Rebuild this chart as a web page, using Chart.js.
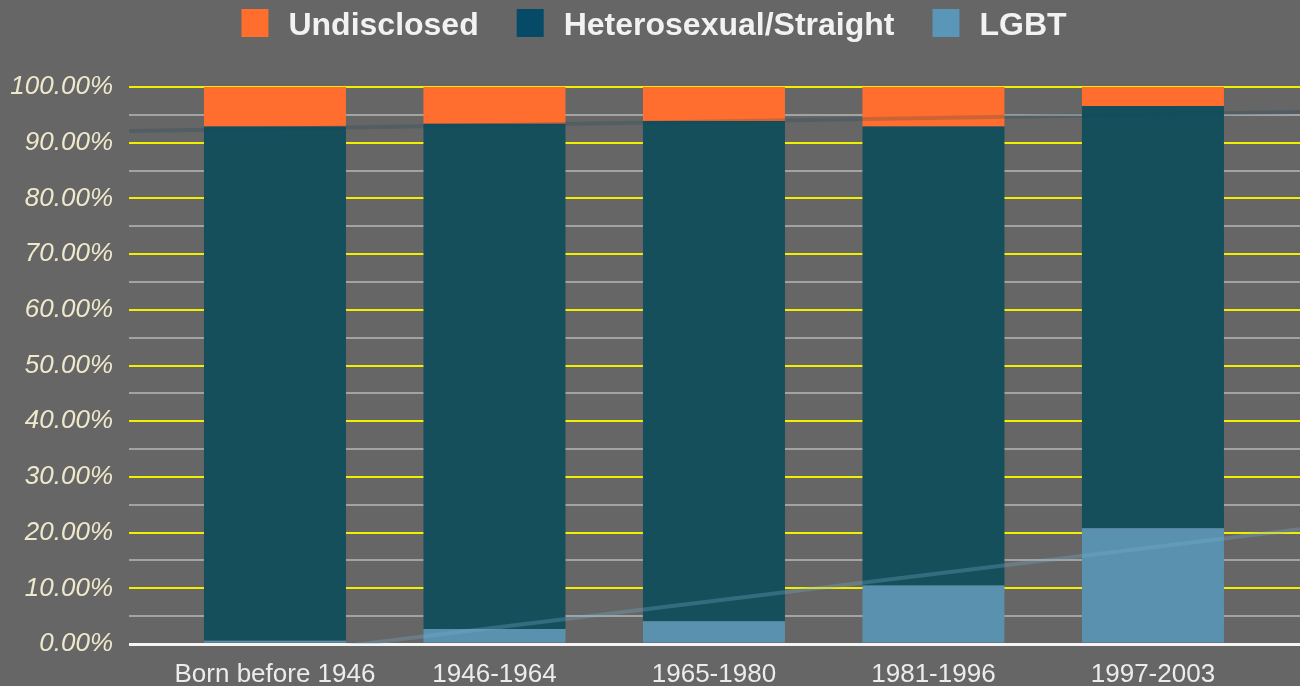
<!DOCTYPE html>
<html>
<head>
<meta charset="utf-8">
<script src="https://cdn.jsdelivr.net/npm/chart.js@4/dist/chart.umd.min.js"></script>
<style>
html, body { margin: 0; padding: 0; background: #666666; }
#wrap { width: 1300px; height: 686px; position: relative; }
</style>
</head>
<body>
<div id="wrap"><canvas id="c" width="1300" height="686"></canvas></div>
<script>
// ---- data ----
const categories = ['Born before 1946', '1946-1964', '1965-1980', '1981-1996', '1997-2003'];
const seriesNames = ['LGBT', 'Heterosexual/Straight', 'Undisclosed'];
const lgbtValues = [0.6, 2.7, 4.1, 10.5, 20.8];
const heteroValues = [92.3, 90.7, 89.8, 82.4, 75.8];
const undisclosedValues = [7.1, 6.6, 6.1, 7.1, 3.4];
// trend line end values (at left and right edge of plot)
const lgbtTrendEnds = [-5.1, 20.6];
const straightTopTrendEnds = [92.1, 95.5];

// ---- styling ----
const xRange = [-0.665, 4.67];
const barColors = ['#5a91ae', '#164f5c', '#ff6e2e'];
const legendColors = ['#5a96b7', '#054a66', '#ff6e2d'];
const FONT = '"Liberation Sans", Arial, Helvetica, sans-serif';

const toPoints = arr => arr.map((v, i) => ({ x: i, y: v }));
const trendPoints = ends => [{ x: xRange[0], y: ends[0] }, { x: xRange[1], y: ends[1] }];

const legendPlugin = {
  id: 'topLegend',
  afterDraw(chart) {
    const ctx = chart.ctx;
    const order = [2, 1, 0];
    ctx.save();
    ctx.font = 'bold 32px ' + FONT;
    const boxW = 27, boxH = 28, gap = 20, spacing = 38;
    const items = order.map(i => ({
      text: chart.data.datasets[i].label,
      color: legendColors[i],
      w: ctx.measureText(chart.data.datasets[i].label).width
    }));
    const total = items.reduce((s, it) => s + boxW + gap + it.w, 0) + spacing * (items.length - 1);
    let x = chart.width / 2 - total / 2 + 4;
    items.forEach(it => {
      ctx.fillStyle = it.color;
      ctx.fillRect(x, 9, boxW, boxH);
      ctx.fillStyle = '#f2f2f2';
      ctx.textBaseline = 'alphabetic';
      ctx.textAlign = 'left';
      ctx.fillText(it.text, x + boxW + gap, 35);
      x += boxW + gap + it.w + spacing;
    });
    ctx.restore();
  }
};

new Chart(document.getElementById('c'), {
  type: 'bar',
  data: {
    datasets: [
      { label: seriesNames[0], data: toPoints(lgbtValues), backgroundColor: barColors[0], borderWidth: 0 },
      { label: seriesNames[1], data: toPoints(heteroValues), backgroundColor: barColors[1], borderWidth: 0 },
      { label: seriesNames[2], data: toPoints(undisclosedValues), backgroundColor: barColors[2], borderWidth: 0 },
      { type: 'line', label: 'LGBT trend', data: trendPoints(lgbtTrendEnds), yAxisID: 'yTrend',
        borderColor: 'rgba(120,175,205,0.3)', borderWidth: 4, pointRadius: 0, order: -1, tension: 0 },
      { type: 'line', label: 'Straight trend', data: trendPoints(straightTopTrendEnds), yAxisID: 'yTrend',
        borderColor: 'rgba(15,70,90,0.22)', borderWidth: 4, pointRadius: 0, order: -1, tension: 0 }
    ]
  },
  options: {
    responsive: false,
    devicePixelRatio: 1,
    animation: false,
    layout: { padding: { top: 87, left: 0, right: 0, bottom: 0 } },
    datasets: { bar: { barPercentage: 0.647, categoryPercentage: 1 } },
    plugins: { legend: { display: false }, tooltip: { enabled: false } },
    scales: {
      x: {
        type: 'linear',
        offset: false,
        min: xRange[0],
        max: xRange[1],
        stacked: true,
        grid: { display: false, drawTicks: false, offset: false },
        border: { display: false },
        afterBuildTicks: s => { s.ticks = categories.map((c, i) => ({ value: i })); },
        afterFit: s => { s.height = 42; },
        ticks: {
          autoSkip: false, maxRotation: 0, padding: 18, color: '#ececec',
          font: { family: FONT, size: 26, lineHeight: 1 },
          callback: v => categories[v] !== undefined ? categories[v] : ''
        }
      },
      y: {
        stacked: true,
        min: 0,
        max: 100,
        afterFit: s => { s.width = 129; },
        border: { display: false },
        grid: {
          drawTicks: false,
          color: c => c.tick.value === 0 ? '#f4f4f4' : (c.tick.value % 10 === 0 ? '#f2ee00' : '#a3a3a3'),
          lineWidth: c => c.tick.value === 0 ? 3 : 2
        },
        ticks: {
          stepSize: 5, autoSkip: false, padding: 16, color: '#efe9cc',
          font: { family: FONT, size: 26, style: 'italic' },
          callback: v => v % 10 === 0 ? v.toFixed(2) + '%' : ''
        }
      },
      yTrend: { display: false, min: 0, max: 100 }
    }
  },
  plugins: [legendPlugin]
});
</script>
</body>
</html>
